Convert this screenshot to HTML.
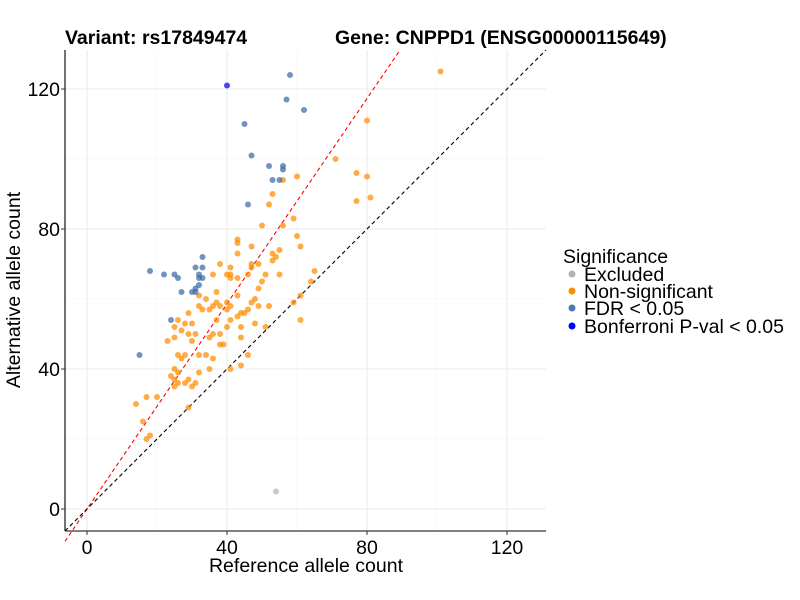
<!DOCTYPE html>
<html><head><meta charset="utf-8"><style>
body{margin:0;background:#fff;font-family:"Liberation Sans",Arial,sans-serif}
svg{display:block}
</style></head><body>
<svg id="chart" width="800" height="600" xmlns="http://www.w3.org/2000/svg">
<rect width="800" height="600" fill="#fff"/>
<text x="65" y="44" font-size="19.5" font-weight="bold">Variant: rs17849474</text>
<text x="335" y="44" font-size="19.5" font-weight="bold">Gene: CNPPD1 (ENSG00000115649)</text>
<g id="grid"></g><g id="lines"></g><g id="pts"></g><g id="axes"></g>
<text x="306" y="572" font-size="19.5" text-anchor="middle">Reference allele count</text>
<text transform="translate(20,290) rotate(-90)" font-size="19.5" text-anchor="middle">Alternative allele count</text>
<g>
<text x="563" y="263" font-size="19.5">Significance</text>
<circle cx="572" cy="274" r="3.5" fill="#b3b3b3"/><text x="584" y="281" font-size="19.5">Excluded</text>
<circle cx="572" cy="291" r="3.5" fill="#ff8c00"/><text x="584" y="298" font-size="19.5">Non-significant</text>
<circle cx="572" cy="308" r="3.5" fill="#4a78b0"/><text x="584" y="315" font-size="19.5">FDR &lt; 0.05</text>
<circle cx="572" cy="326" r="3.5" fill="#0000ff"/><text x="584" y="333" font-size="19.5">Bonferroni P-val &lt; 0.05</text>
</g>
</svg>
<script>
const refNS=[43,43,47,60,61,43,55,53,54,53,38,41,47,49,47,36,40,41,41,43,46,51,55,50,65,64,49,37,32,34,43,61,59,48,47,37,40,32,33,35,36,38,41,40,49,52,46,29,43,44,45,26,30,28,37,41,48,61,25,27,40,44,51,29,31,36,38,25,35,23,30,44,38,39,26,28,27,32,34,36,46,44,25,41,35,26,32,24,25,26,28,31,25,30,29,17,20,14,29,16,18,17,101,80,71,60,56,77,80,53,52,77,81,50,56,59];
const altNS=[77,76,75,78,75,73,74,73,72,71,70,69,70,70,69,67,67,67,66,66,67,67,67,65,68,65,63,62,61,60,61,61,59,60,59,59,59,58,57,57,58,58,58,57,58,58,57,56,55,56,56,54,53,53,54,54,53,54,52,51,52,52,52,50,50,50,50,49,49,48,48,49,47,47,44,44,43,44,44,43,44,41,40,40,40,39,39,38,37,36,36,36,35,35,37,32,32,30,29,25,21,20,125,111,100,95,94,96,95,90,87,88,89,81,81,83];
const refFDR=[33,31,33,18,22,25,26,32,32,33,32,31,30,31,27,24,15,58,57,62,45,47,52,56,56,53,55,46];
const altFDR=[72,69,69,68,67,67,66,67,66,66,64,63,62,62,62,54,44,124,117,114,110,101,98,98,97,94,94,87];
const refBon=[40], altBon=[121];
const refEx=[54], altEx=[5];
const xTicks=[0,40,80,120], yTicks=[0,40,80,120], minor=[20,60,100];
const X=v=>87+v*3.5, Y=v=>509-v*3.5;
const L=65,R=546,T=50,B=531;
const ns="http://www.w3.org/2000/svg";
function mk(p,t,a){const e=document.createElementNS(ns,t);for(const k in a)e.setAttribute(k,a[k]);document.getElementById(p).appendChild(e);return e;}
minor.forEach(v=>{mk('grid','line',{x1:X(v),x2:X(v),y1:T,y2:B,stroke:'#f3f3f3','stroke-width':0.6});mk('grid','line',{x1:L,x2:R,y1:Y(v),y2:Y(v),stroke:'#f3f3f3','stroke-width':0.6});});
xTicks.forEach(v=>{const g=mk('grid','line',{x1:X(v),x2:X(v),y1:T,y2:B,stroke:'#ebebeb','stroke-width':1.1});

});
yTicks.forEach(v=>{const g=mk('grid','line',{x1:L,x2:R,y1:Y(v),y2:Y(v),stroke:'#ebebeb','stroke-width':1.1});

});
const xmin=(L-87)/3.5, xmax=(R-87)/3.5, ymax=(509-T)/3.5;
const rl=mk('lines','line',{x1:X(xmin),y1:Y(xmin*1.466),x2:X(ymax/1.466),y2:Y(ymax),stroke:'#ff0000','stroke-width':1.1,'stroke-dasharray':'4,3'});


const bl=mk('lines','line',{x1:X(xmin),y1:Y(xmin),x2:X(xmax),y2:Y(xmax),stroke:'#000','stroke-width':1.1,'stroke-dasharray':'4,3'});


function draw(xs,ys,col,name){xs.forEach((v,i)=>{const c=mk('pts','circle',{cx:X(v),cy:Y(ys[i]),r:3,fill:col,'fill-opacity':0.72});

});}
draw(refEx,altEx,'#b3b3b3','point-excluded');
draw(refNS,altNS,'#ff8c00','point-nonsig');
draw(refFDR,altFDR,'#3a6aa8','point-fdr');
draw(refBon,altBon,'#0000ff','point-bonferroni');
mk('axes','line',{x1:L,x2:L,y1:T,y2:B,stroke:'#000','stroke-width':1.1});
mk('axes','line',{x1:L,x2:R,y1:B,y2:B,stroke:'#000','stroke-width':1.1});
xTicks.forEach(v=>{mk('axes','line',{x1:X(v),x2:X(v),y1:B,y2:B+4,stroke:'#333'});
const t=mk('axes','text',{x:X(v),y:B+23,'font-size':19.5,'text-anchor':'middle'});t.textContent=v;

});
yTicks.forEach(v=>{mk('axes','line',{x1:L-4,x2:L,y1:Y(v),y2:Y(v),stroke:'#333'});
const t=mk('axes','text',{x:L-5,y:Y(v)+7,'font-size':19.5,'text-anchor':'end'});t.textContent=v;

});
</script>
</body></html>
